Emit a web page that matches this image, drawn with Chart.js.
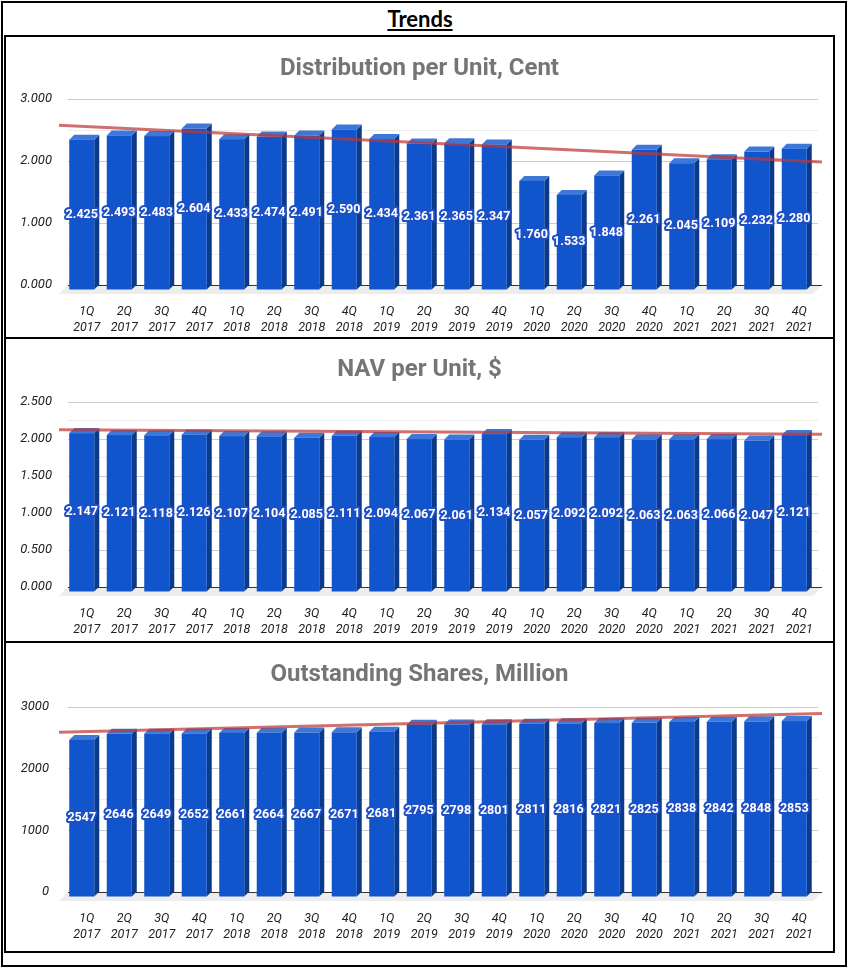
<!DOCTYPE html>
<html>
<head>
<meta charset="utf-8">
<title>Trends</title>
<script src="https://cdn.jsdelivr.net/npm/chart.js@4.4.1/dist/chart.umd.min.js"></script>
<style>
	body { margin: 0; background: #fff; }
	#frame { position: absolute; left: 1px; top: 1px; width: 846px; height: 966px; box-sizing: border-box; border: 2px solid #000; }
	#heading { position: absolute; left: 0; top: 7px; width: 840px; text-align: center; font: bold 22px Lato; line-height: 24px; text-decoration: underline; color: #000; }
	.panel { position: absolute; left: 4px; width: 831px; box-sizing: border-box; border: 2px solid #000; }
	.panel div { position: relative; width: 827px; }
	.panel canvas { display: block; }
</style>
</head>
<body>
<div id="frame"></div>
<div id="heading">Trends</div>
<div class="panel" style="top:35px;height:304px;"><div style="height:300px;"><canvas id="distribution-chart"></canvas></div></div>
<div class="panel" style="top:337px;height:306px;"><div style="height:302px;"><canvas id="nav-chart"></canvas></div></div>
<div class="panel" style="top:641px;height:312px;"><div style="height:308px;"><canvas id="shares-chart"></canvas></div></div>
<script>
const categories = [
	["1Q", "2017"], ["2Q", "2017"], ["3Q", "2017"], ["4Q", "2017"],
	["1Q", "2018"], ["2Q", "2018"], ["3Q", "2018"], ["4Q", "2018"],
	["1Q", "2019"], ["2Q", "2019"], ["3Q", "2019"], ["4Q", "2019"],
	["1Q", "2020"], ["2Q", "2020"], ["3Q", "2020"], ["4Q", "2020"],
	["1Q", "2021"], ["2Q", "2021"], ["3Q", "2021"], ["4Q", "2021"],
];

const distributionValues = [2.425, 2.493, 2.483, 2.604, 2.433, 2.474, 2.491, 2.590, 2.434, 2.361,
	2.365, 2.347, 1.760, 1.533, 1.848, 2.261, 2.045, 2.109, 2.232, 2.280];

const navValues = [2.147, 2.121, 2.118, 2.126, 2.107, 2.104, 2.085, 2.111, 2.094, 2.067,
	2.061, 2.134, 2.057, 2.092, 2.092, 2.063, 2.063, 2.066, 2.047, 2.121];

const sharesValues = [2547, 2646, 2649, 2652, 2661, 2664, 2667, 2671, 2681, 2795,
	2798, 2801, 2811, 2816, 2821, 2825, 2838, 2842, 2848, 2853];

const depth = 5;
const frontColor = "#1155cc";
const topColor = "#3d78d8";
const sideColor = "#0c3a8b";

// least squares line through the bars, same as the sheet's trendline
const linearTrend = (values) => {
	const n = values.length;
	const meanX = (n - 1) / 2;
	const meanY = values.reduce((a, b) => a + b, 0) / n;
	let num = 0;
	let den = 0;
	values.forEach((v, i) => {
		num += (i - meanX) * (v - meanY);
		den += (i - meanX) * (i - meanX);
	});
	const slope = num / den;
	return (i) => meanY + slope * (i - meanX);
};

const bars3d = {
	id: "bars3d",
	beforeDatasetsDraw(chart) {
		const { ctx, chartArea, scales } = chart;
		const base = scales.y.getPixelForValue(0);
		const left = chartArea.left;
		const right = chartArea.right + 4;
		ctx.save();
		ctx.fillStyle = "#ededed";
		ctx.beginPath();
		ctx.moveTo(left, base);
		ctx.lineTo(right, base);
		ctx.lineTo(right - 9, base + 9);
		ctx.lineTo(left - 9, base + 9);
		ctx.closePath();
		ctx.fill();
		ctx.strokeStyle = "#333";
		ctx.lineWidth = 1;
		ctx.beginPath();
		ctx.moveTo(left, base + 0.5);
		ctx.lineTo(right, base + 0.5);
		ctx.stroke();
		ctx.restore();
	},
	afterDatasetsDraw(chart, args, opts) {
		const { ctx, chartArea, scales } = chart;
		const meta = chart.getDatasetMeta(0);
		const values = chart.data.datasets[0].data;
		ctx.save();

		meta.data.forEach((bar) => {
			const half = bar.width / 2;
			const l = bar.x - half;
			const r = bar.x + half;
			const t = bar.y;
			const b = bar.base;

			ctx.fillStyle = sideColor;
			ctx.beginPath();
			ctx.moveTo(r - depth, t + depth);
			ctx.lineTo(r, t);
			ctx.lineTo(r, b);
			ctx.lineTo(r - depth, b + depth);
			ctx.closePath();
			ctx.fill();

			ctx.fillStyle = topColor;
			ctx.beginPath();
			ctx.moveTo(l - depth, t + depth);
			ctx.lineTo(l, t);
			ctx.lineTo(r, t);
			ctx.lineTo(r - depth, t + depth);
			ctx.closePath();
			ctx.fill();

			ctx.fillStyle = frontColor;
			ctx.fillRect(l - depth, t + depth, bar.width, b - t);
		});

		// trendline
		const trend = linearTrend(values);
		const x0 = scales.x.getPixelForValue(0);
		const step = scales.x.getPixelForValue(1) - x0;
		const startX = chartArea.left - 9;
		const endX = chartArea.right + 4;
		ctx.strokeStyle = "rgba(190, 55, 55, 0.72)";
		ctx.lineWidth = 3;
		ctx.beginPath();
		ctx.moveTo(startX, scales.y.getPixelForValue(trend((startX - x0) / step)));
		ctx.lineTo(endX, scales.y.getPixelForValue(trend((endX - x0) / step)));
		ctx.stroke();

		// value labels in the middle of the front face
		ctx.font = "bold 12.5px Roboto";
		ctx.textAlign = "center";
		ctx.textBaseline = "middle";
		ctx.lineJoin = "round";
		ctx.lineWidth = 4;
		ctx.strokeStyle = "#1d50c6";
		ctx.fillStyle = "#ffffff";
		meta.data.forEach((bar, i) => {
			const text = values[i].toFixed(opts.digits);
			const x = bar.x - depth;
			const y = (bar.y + bar.base) / 2 + depth;
			ctx.strokeText(text, x, y);
			ctx.fillText(text, x, y);
		});
		ctx.restore();
	},
};

const makeChart = (canvasId, title, values, axis, layout) => {
	const isMajor = (v) => Math.abs(v / axis.major - Math.round(v / axis.major)) < 1e-6;
	const config = {
		type: "bar",
		data: {
			labels: categories,
			datasets: [
				{
					data: values,
					backgroundColor: "rgba(0,0,0,0)",
					barPercentage: 0.667,
					categoryPercentage: 1,
				},
			],
		},
		options: {
			responsive: true,
			maintainAspectRatio: false,
			animation: false,
			layout: { padding: 0 },
			plugins: {
				legend: { display: false },
				tooltip: { enabled: false },
				title: {
					display: true,
					text: title,
					color: "#757575",
					font: { family: "Roboto", size: 24, weight: "bold" },
					padding: { top: layout.titleTop, bottom: layout.titleBottom },
				},
				bars3d: { digits: axis.digits },
			},
			scales: {
				x: {
					grid: { display: false },
					border: { display: false },
					ticks: {
						color: "#222",
						padding: 11,
						autoSkip: false,
						maxRotation: 0,
						font: { family: "Roboto", size: 12.5, style: "italic", lineHeight: 1.28 },
					},
					afterFit: (scale) => {
						scale.height = layout.xHeight;
					},
				},
				y: {
					min: 0,
					max: axis.max,
					border: { display: false },
					grid: {
						drawTicks: false,
						color: (ctx) => {
							if (!ctx.tick || ctx.tick.value === 0) return "rgba(0,0,0,0)";
							return isMajor(ctx.tick.value) ? "#cccccc" : "#ebebeb";
						},
					},
					ticks: {
						stepSize: axis.step,
						autoSkip: false,
						padding: layout.yPad,
						color: "#222",
						font: { family: "Roboto", size: 13, style: "italic" },
						callback: (v) => (isMajor(v) ? Number(v).toFixed(axis.digits) : ""),
					},
					afterFit: (scale) => {
						scale.width = 62;
					},
				},
				// empty right gutter so the title stays centred on the whole panel
				gutter: {
					position: "right",
					grid: { display: false },
					border: { display: false },
					ticks: { display: false },
					afterFit: (scale) => {
						scale.width = 15;
					},
				},
			},
		},
		plugins: [bars3d],
	};
	return new Chart(document.getElementById(canvasId), config);
};

makeChart("distribution-chart", "Distribution per Unit, Cent", distributionValues,
	{ max: 3, step: 0.5, major: 1, digits: 3 },
	{ titleTop: 17.6, titleBottom: 15.6, xHeight: 52, yPad: 16 });

makeChart("nav-chart", "NAV per Unit, $", navValues,
	{ max: 2.5, step: 0.25, major: 0.5, digits: 3 },
	{ titleTop: 16.6, titleBottom: 17.6, xHeight: 54, yPad: 16 });

makeChart("shares-chart", "Outstanding Shares, Million", sharesValues,
	{ max: 3000, step: 500, major: 1000, digits: 0 },
	{ titleTop: 17.6, titleBottom: 17.6, xHeight: 59, yPad: 19 });
</script>
</body>
</html>
